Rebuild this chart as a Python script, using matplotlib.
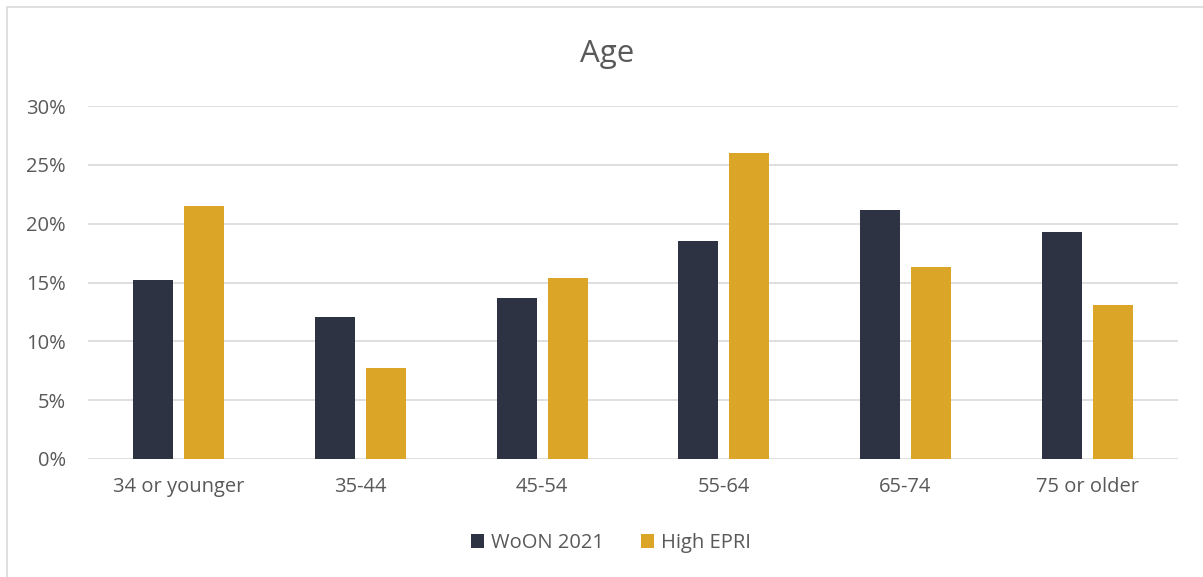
import matplotlib
matplotlib.use("Agg")
import matplotlib.pyplot as plt
import numpy as np
from matplotlib.patches import Rectangle

categories = ["34 or younger", "35-44", "45-54", "55-64", "65-74", "75 or older"]
woon_2021 = [15.2, 12.1, 13.7, 18.5, 21.2, 19.3]
high_epri = [21.5, 7.7, 15.4, 26.0, 16.3, 13.1]
series_names = ["WoON 2021", "High EPRI"]
colors = ["#2D3343", "#DBA628"]

plt.rcParams['font.family'] = ['Open Sans', 'DejaVu Sans']
W, H = 1203, 577
fig = plt.figure(figsize=(W/100, H/100), dpi=100)
ax = fig.add_axes([88/W, 1-459/H, (1178-88)/W, (459-106)/H])

x = np.arange(len(categories))
bw = 0.22
off = 0.14
ax.bar(x - off, woon_2021, bw, color=colors[0], label=series_names[0], zorder=3)
ax.bar(x + off, high_epri, bw, color=colors[1], label=series_names[1], zorder=3)

ax.set_xlim(-0.5, len(categories) - 0.5)
ax.set_ylim(0, 30)
ax.set_yticks(np.arange(0, 31, 5))
ax.set_yticklabels([f"{v}%" for v in range(0, 31, 5)])
ax.set_xticks(x)
ax.set_xticklabels(categories)
ax.grid(axis='y', color='#D9D9D9', linewidth=1.2, zorder=0)
for s in ax.spines.values():
    s.set_visible(False)
ax.tick_params(axis='both', length=0, labelsize=14.5, colors='#595959')
ax.tick_params(axis='x', pad=13)
ax.tick_params(axis='y', pad=16)

fig.text(607/W, 1-62/H, "Age", ha='center', va='baseline', fontsize=22.5, color='#595959')

handles, labels = ax.get_legend_handles_labels()
fig.legend(handles, labels, loc='center', bbox_to_anchor=(611/W, 1-543/H), ncol=2,
           frameon=False, fontsize=14.5, labelcolor='#595959', handlelength=0.65,
           handleheight=0.65, handletextpad=0.35, columnspacing=1.8)

fig.patches.append(Rectangle((7/W, -0.1), 1.2, 1 - 7/H + 0.1, transform=fig.transFigure,
                             fill=False, edgecolor='#D9D9D9', linewidth=1.2))

fig.savefig("out.png", dpi=100, facecolor='white')
